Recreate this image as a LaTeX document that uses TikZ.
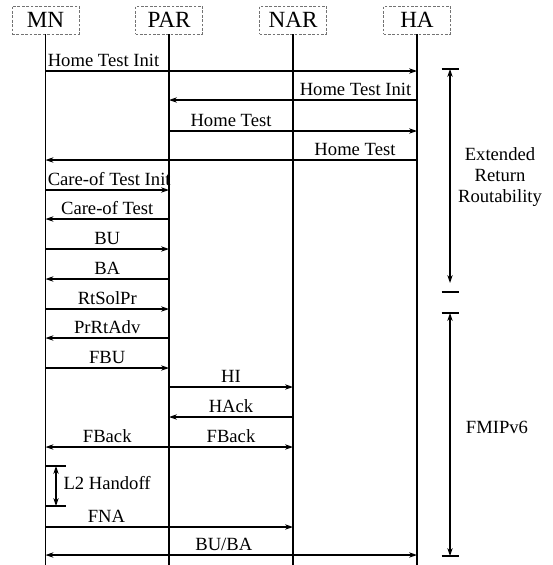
\documentclass[tikz,border=0pt]{standalone}
\usepackage{fontspec}
\setmainfont{Liberation Serif}
\usepackage{tikz}
\usetikzlibrary{arrows.meta,positioning}

\begin{document}
\begin{tikzpicture}[
    x=0.02cm, y=-0.02cm,
    entity/.style={rectangle, draw=black!55, dash pattern=on 1.6pt off 0.9pt,
                   line width=0.5pt, minimum width=1.34cm, minimum height=0.56cm,
                   inner sep=0pt, font=\fontsize{13.2}{15}\selectfont},
    life/.style={line width=0.6pt},
    msg/.style={->, line width=0.6pt, >={Stealth[length=4.5pt,width=3pt]}},
    dmsg/.style={msg, <->},
    txt/.style={font=\fontsize{10.6}{11.7}\selectfont, inner sep=1pt, text depth=0pt},
    lbl/.style={txt, above=1pt},
    bar/.style={line width=0.6pt},
]
\useasboundingbox (0,0) rectangle (552,565);

% Entities
\node[entity] (mn)  at (45.5,20) {MN};
\node[entity] (par) at (169,20)  {PAR};
\node[entity] (nar) at (293,20)  {NAR};
\node[entity] (ha)  at (417,20)  {HA};

% Lifelines
\coordinate (bottom) at (0,565);
\foreach \e in {mn,par,nar,ha}
    \draw[life] (\e.south) -- (\e.south |- bottom);

% Message rows
\foreach \n/\y in {1/71,2/100,3/131,4/160,5/190,6/219,7/249,8/279,9/309,
                   10/338,11/368,12/387,13/417,14/447,15/527,16/555}
    \coordinate (t\n) at (0,\y);

% Return routability messages
\draw[msg] (mn |- t1) -- node[lbl, anchor=south west, pos=0] {Home Test Init} (ha |- t1);
\draw[msg] (ha |- t2) -- node[lbl, anchor=south east, pos=0, xshift=-2pt] {Home Test Init} (par |- t2);
\draw[msg] (par |- t3) -- node[lbl, pos=0.25] {Home Test} (ha |- t3);
\draw[msg] (ha |- t4) -- node[lbl, pos=0.167] {Home Test} (mn |- t4);
\draw[msg] (mn |- t5) -- node[lbl, anchor=south west, pos=0] {Care-of Test Init} (par |- t5);
\draw[msg] (par |- t6) -- node[lbl] {Care-of Test} (mn |- t6);
\draw[msg] (mn |- t7) -- node[lbl] {BU} (par |- t7);
\draw[msg] (par |- t8) -- node[lbl] {BA} (mn |- t8);

% Fast handover messages
\draw[msg] (mn |- t9) -- node[lbl] {RtSolPr} (par |- t9);
\draw[msg] (par |- t10) -- node[lbl] {PrRtAdv} (mn |- t10);
\draw[msg] (mn |- t11) -- node[lbl] {FBU} (par |- t11);
\draw[msg] (par |- t12) -- node[lbl] {HI} (nar |- t12);
\draw[msg] (nar |- t13) -- node[lbl] {HAck} (par |- t13);
\draw[msg] (par |- t14) -- node[lbl] {FBack} (mn |- t14);
\draw[msg] (par |- t14) -- node[lbl] {FBack} (nar |- t14);

% L2 handoff
\coordinate (l2top) at (56,466);
\coordinate (l2bot) at (56,506);
\draw[bar] (mn |- l2top) -- ++(20.5,0);
\draw[bar] (mn |- l2bot) -- ++(20.5,0);
\draw[dmsg] (l2top) -- node[txt, right=3pt, yshift=1.5pt] {L2 Handoff} (l2bot);

\draw[msg] (mn |- t15) -- node[lbl, pos=0.246] {FNA} (nar |- t15);
\draw[dmsg] (mn |- t16) -- node[lbl, pos=0.48] {BU/BA} (ha |- t16);

% Phase spans
\coordinate (rrtop) at (450,69);
\coordinate (rrend) at (450,283);
\coordinate (rrbot) at (450,292);
\coordinate (fmtop) at (450,313);
\coordinate (fmbot) at (450,556);
\foreach \c in {rrtop,rrbot,fmtop,fmbot}
    \draw[bar] (\c) ++(-8.5,0) -- ++(17,0);
\draw[dmsg] (rrtop) -- (rrend);
\draw[dmsg] (fmtop) -- (fmbot);
\node[txt, align=center] (rr) at (500,175) {Extended\\Return\\Routability};
\node[txt] (fm) at (497,427) {FMIPv6};

\end{tikzpicture}
\end{document}
